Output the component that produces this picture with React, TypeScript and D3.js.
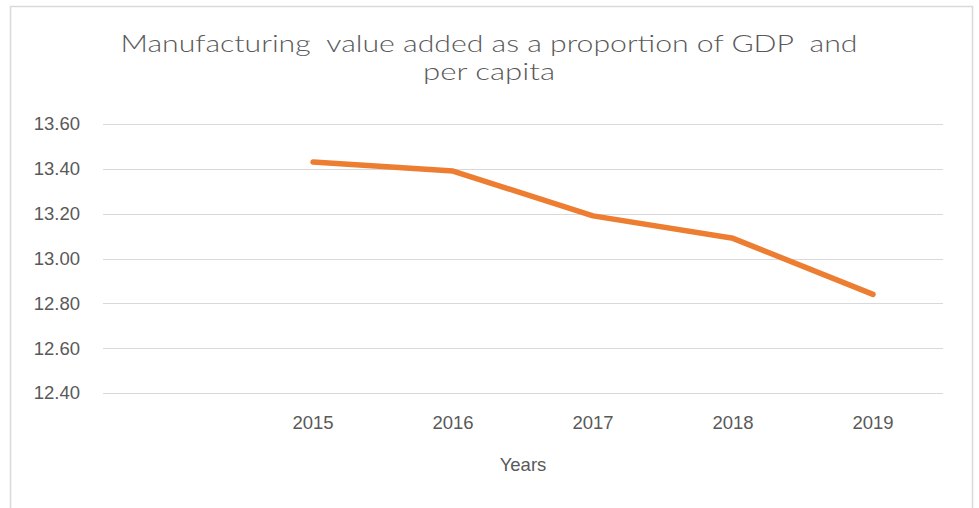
import React, { useRef, useEffect } from "react";
import * as d3 from "d3";

const categories = ["", "2015", "2016", "2017", "2018", "2019"];
const years = ["2015", "2016", "2017", "2018", "2019"];
const values = [13.43, 13.39, 13.19, 13.09, 12.84];
const yTicks = [12.4, 12.6, 12.8, 13.0, 13.2, 13.4, 13.6];
const titleLines = ["Manufacturing  value added as a proportion of GDP  and", "per capita"];
const titleWidths = [737, 132];
const xTitle = "Years";

const App: React.FC = () => {
  const svgRef = useRef<SVGSVGElement>(null);

  useEffect(() => {
    const W = 979;
    const H = 508;
    const plot = { left: 103, right: 943, top: 124, bottom: 393 };
    const grey = "#595959";
    const font = "'Liberation Sans', Arial, sans-serif";

    const svg = d3.select(svgRef.current);
    svg.selectAll("*").remove();

    svg.append("rect").attr("width", W).attr("height", H).attr("fill", "#fff");

    // chart area border
    svg.append("rect")
      .attr("x", 10.5).attr("y", 6.5)
      .attr("width", 962).attr("height", 520)
      .attr("fill", "none")
      .attr("stroke", "#d9d9d9")
      .attr("stroke-width", 1.5);

    const x = d3.scaleBand<string>().domain(categories).range([plot.left, plot.right]);
    const y = d3.scaleLinear().domain([12.4, 13.6]).range([plot.bottom, plot.top]);

    // gridlines
    svg.append("g").selectAll("line")
      .data(yTicks)
      .enter()
      .append("line")
      .attr("x1", plot.left).attr("x2", plot.right)
      .attr("y1", d => Math.round(y(d)) + 0.5).attr("y2", d => Math.round(y(d)) + 0.5)
      .attr("stroke", "#d9d9d9")
      .attr("stroke-width", 1);

    // y labels
    svg.append("g").selectAll("text")
      .data(yTicks)
      .enter()
      .append("text")
      .attr("x", 80)
      .attr("y", d => y(d))
      .attr("dy", "0.35em")
      .attr("text-anchor", "end")
      .style("font-family", font)
      .style("font-size", "18.5px")
      .style("fill", grey)
      .text(d => d3.format(".2f")(d));

    // x labels
    svg.append("g").selectAll("text")
      .data(years)
      .enter()
      .append("text")
      .attr("x", d => (x(d) as number) + x.bandwidth() / 2)
      .attr("y", 423)
      .attr("dy", "0.35em")
      .attr("text-anchor", "middle")
      .style("font-family", font)
      .style("font-size", "18.5px")
      .style("fill", grey)
      .text(d => d);

    svg.append("text")
      .attr("x", (plot.left + plot.right) / 2)
      .attr("y", 465)
      .attr("dy", "0.35em")
      .attr("text-anchor", "middle")
      .style("font-family", font)
      .style("font-size", "18.5px")
      .style("fill", grey)
      .text(xTitle);

    // title
    svg.append("g").selectAll("text")
      .data(titleLines)
      .enter()
      .append("text")
      .attr("x", 489)
      .attr("y", (_, i) => 52 + i * 28)
      .attr("text-anchor", "middle")
      .attr("textLength", (_, i) => titleWidths[i])
      .attr("lengthAdjust", "spacingAndGlyphs")
      .style("font-family", "'URW Gothic', 'Century Gothic', Lato, sans-serif")
      .style("font-size", "23px")
      .style("font-weight", 300)
      .style("fill", grey)
      .style("white-space", "pre")
      .text(d => d);

    const line = d3.line<number>()
      .x((_, i) => (x(years[i]) as number) + x.bandwidth() / 2)
      .y(d => y(d));

    svg.append("path")
      .datum(values)
      .attr("fill", "none")
      .attr("stroke", "#ED7D31")
      .attr("stroke-width", 5.5)
      .attr("stroke-linecap", "round")
      .attr("stroke-linejoin", "round")
      .attr("d", line);
  }, []);

  return <svg ref={svgRef} width={979} height={508} style={{ position: "absolute", left: 0, top: 0 }}></svg>;
};

export default App;
